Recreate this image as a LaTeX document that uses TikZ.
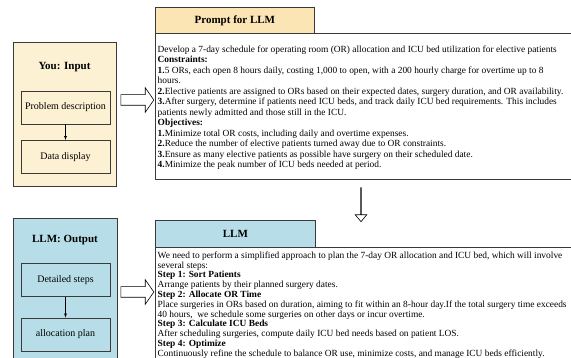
\documentclass[tikz,border=0pt]{standalone}
\usepackage{fontspec}
\setmainfont{Liberation Serif}
\usepackage{xcolor}
\usepackage{tikz}
\usetikzlibrary{shapes.arrows,arrows}

\definecolor{inyellow}{HTML}{FDF1D4}
\definecolor{hdyellow}{HTML}{FCE5B4}
\definecolor{outblue}{HTML}{B7DEE8}
\definecolor{edgegray}{HTML}{3A3A3A}

\begin{document}
\begin{tikzpicture}[x=1pt, y=-1pt,
                    panel/.style={draw=edgegray, line width=0.8pt, rectangle,
                    inner sep=0pt},
                    step box/.style={panel, minimum width=89pt, minimum height=33pt,
                    font=\fontsize{10}{12}\selectfont},
                    title/.style={font=\fontsize{11}{13}\selectfont\bfseries},
                    body/.style={anchor=north west, inner sep=0pt, align=left},
                    hollow/.style={single arrow, draw=black, fill=white, line width=0.6pt,
                    inner xsep=0pt, minimum height=#1}]
    \useasboundingbox (0,0) rectangle (571,358);

    % input side
    \node[panel, fill=inyellow, minimum width=103pt, minimum height=144pt] (inbox) at (64.5,114) {};
    \node[title] (intitle) at (64.5,67) {You: Input};
    \node[step box, fill=inyellow] (pd) at (65.5,107.5) {Problem description};
    \node[step box, fill=inyellow] (dd) at (65.5,157) {Data display};
    \draw[-latex] (pd) -- (dd);

    \node[hollow=33pt, inner ysep=5pt, single arrow head extend=7pt,
          single arrow tip angle=110] (inarrow) at (135.5,100) {};

    % prompt
    \node[panel, anchor=north west, minimum width=420pt, minimum height=146pt] (pbody) at (155,33) {};
    \node[panel, fill=hdyellow, anchor=north west, minimum width=159pt, minimum height=26pt,
          title] (phead) at (155,7) {Prompt for LLM};
    \node[body, font=\fontsize{9.4}{10.5}\selectfont] (ptext) at (157.5,45.5) {%
        Develop a 7-day schedule for operating room (OR) allocation and ICU bed utilization for elective patients\\
        \textbf{Constraints:}\\
        \textbf{1.}5 ORs, each open 8 hours daily, costing 1,000 to open, with a 200 hourly charge for overtime up to 8\\
        hours.\\
        \textbf{2.}Elective patients are assigned to ORs based on their expected dates, surgery duration, and OR availability.\\
        \textbf{3.}After surgery, determine if patients need ICU beds, and track daily ICU bed requirements. This includes\\
        patients newly admitted and those still in the ICU.\\
        \textbf{Objectives:}\\
        \textbf{1.}Minimize total OR costs, including daily and overtime expenses.\\
        \textbf{2.}Reduce the number of elective patients turned away due to OR constraints.\\
        \textbf{3.}Ensure as many elective patients as possible have surgery on their scheduled date.\\
        \textbf{4.}Minimize the peak number of ICU beds needed at period.};

    \node[hollow=34pt, inner ysep=3.5pt, single arrow head extend=5.5pt,
          single arrow tip angle=80, shape border rotate=270] (downarrow) at (361,204.5) {};

    % output side
    \node[panel, fill=outblue, anchor=north west, minimum width=104pt, minimum height=150pt] (outbox) at (13,218) {};
    \node[title] (outtitle) at (65,240) {LLM: Output};
    \node[step box, fill=outblue] (ds) at (65.5,280) {Detailed steps};
    \node[step box, fill=outblue] (ap) at (65.5,334.5) {allocation plan};
    \draw[-latex] (ds) -- (ap);

    \node[hollow=33pt, inner ysep=5pt, single arrow head extend=7pt,
          single arrow tip angle=110] (outarrow) at (135.5,292) {};

    % llm
    \node[panel, anchor=north west, minimum width=420pt, minimum height=130pt] (lbody) at (155,247) {};
    \node[panel, fill=outblue, anchor=north west, minimum width=160pt, minimum height=27pt,
          title] (lhead) at (155,220) {LLM};
    \node[body, font=\fontsize{9.4}{9.8}\selectfont] (ltext) at (157.5,251.5) {%
        We need to perform a simplified approach to plan the 7-day OR allocation and ICU bed, which will involve\\
        several steps:\\
        \textbf{Step 1: Sort Patients}\\
        Arrange patients by their planned surgery dates.\\
        \textbf{Step 2: Allocate OR Time}\\
        Place surgeries in ORs based on duration, aiming to fit within an 8-hour day.If the total surgery time exceeds\\
        40 hours,\ \ we schedule some surgeries on other days or incur overtime.\\
        \textbf{Step 3: Calculate ICU Beds}\\
        After scheduling surgeries, compute daily ICU bed needs based on patient LOS.\\
        \textbf{Step 4: Optimize}\\
        Continuously refine the schedule to balance OR use, minimize costs, and manage ICU beds efficiently.};
\end{tikzpicture}
\end{document}
